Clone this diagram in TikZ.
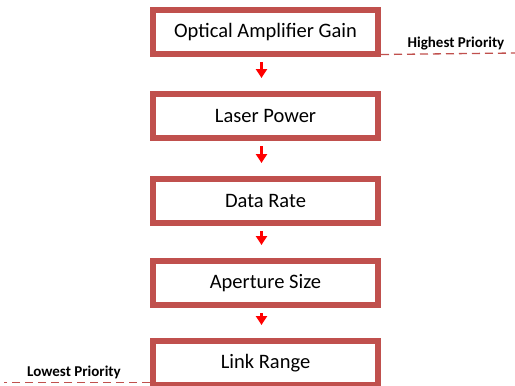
\documentclass[tikz,border=0pt]{standalone}
\usepackage{fontspec}
\setmainfont{Carlito}
\usetikzlibrary{arrows.meta}
\definecolor{boxred}{HTML}{C0504D}
\begin{document}
\begin{tikzpicture}[x=1pt,y=-1pt,
  stagebox/.style={draw=boxred,line width=6pt,minimum width=225pt,minimum height=44pt,inner sep=0pt,font=\fontsize{20.5}{23}\selectfont},
  flowarrow/.style={color=red,line width=2.4pt,-{Triangle[width=11pt,length=9pt]}},
  prio/.style={draw=boxred,dashed,dash pattern=on 8pt off 5pt,line width=1.3pt},
  priotext/.style={font=\bfseries\fontsize{15}{17}\selectfont,inner sep=0pt}]
\useasboundingbox (0,0) rectangle (515,386);
\node[stagebox] (b1) at (265.5,32) {Optical Amplifier Gain};
\node[stagebox] (b2) at (265.5,116) {Laser Power};
\node[stagebox] (b3) at (265.5,201) {Data Rate};
\node[stagebox] (b4) at (265.5,283) {Aperture Size};
\node[stagebox] (b5) at (265.5,363) {Link Range};
\foreach \a/\b in {b1/b2,b2/b3,b3/b4,b4/b5}{
  \draw[flowarrow] ([xshift=-4pt,yshift=-5pt]\a.south) -- ([xshift=-4pt,yshift=13pt]\b.north);
}
\coordinate (hend) at (515,53);
\draw[prio] ([yshift=2.5pt]b1.south east) -- (hend);
\node[priotext] (ht) at (456,44) {Highest Priority};
\coordinate (lend) at (4,382.5);
\draw[prio] ([yshift=5.5pt]b5.south west) -- (lend);
\node[priotext] (lt) at (74,372) {Lowest Priority};
\end{tikzpicture}
\end{document}
